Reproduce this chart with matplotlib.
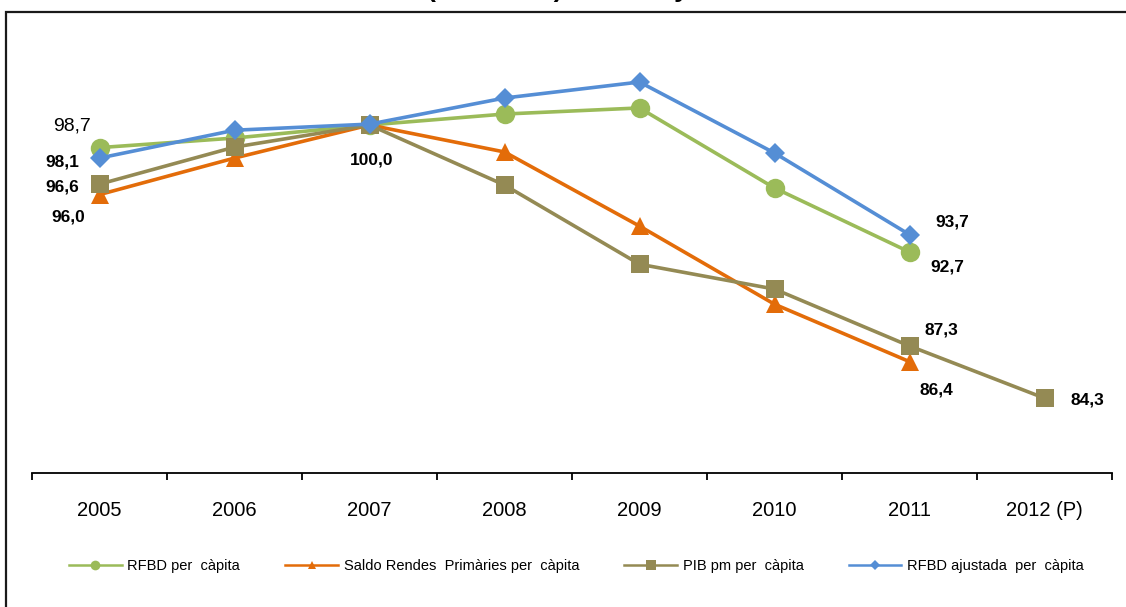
import matplotlib
matplotlib.use("Agg")
import matplotlib.pyplot as plt
from matplotlib.lines import Line2D
from matplotlib.patches import Rectangle

plt.rcParams['font.family'] = ['Liberation Sans', 'DejaVu Sans']

years = ["2005", "2006", "2007", "2008", "2009", "2010", "2011", "2012 (P)"]
rfbd = [98.7, 99.25, 100.0, 100.63, 100.98, 96.38, 92.7]
saldo = [96.0, 98.1, 100.0, 98.45, 94.19, 89.7, 86.4]
pib = [96.6, 98.73, 100.0, 96.55, 92.0, 90.57, 87.3, 84.3]
rfbd_aj = [98.1, 99.7, 100.05, 101.55, 102.47, 98.39, 93.7]

series_names = ["RFBD per  càpita", "Saldo Rendes  Primàries per  càpita",
                "PIB pm per  càpita", "RFBD ajustada  per  càpita"]
colors = ["#9BBB59", "#E36C09", "#948A54", "#558ED5"]
markers = ["o", "^", "s", "D"]
msizes = [14, 13, 13, 10.5]

# data labels: (series index, point index, text, dx px, dy px (down positive), bold, size)
labels = [
    (0, 0, "98,7", -27, -22, False, 14),
    (3, 0, "98,1", -37, 4, True, 12.5),
    (2, 0, "96,6", -37, 3, True, 12.5),
    (1, 0, "96,0", -31, 22, True, 12.5),
    (2, 2, "100,0", 2, 35, True, 12.5),
    (3, 6, "93,7", 43, -13, True, 12.5),
    (0, 6, "92,7", 38, 15, True, 12.5),
    (2, 6, "87,3", 32, -16, True, 12.5),
    (1, 6, "86,4", 27, 28, True, 12.5),
    (2, 7, "84,3", 43, 2, True, 12.5),
]

W, H = 1126, 607
fig = plt.figure(figsize=(W / 100, H / 100), dpi=100)
ax = fig.add_axes([32 / W, (H - 473) / H, 1080 / W, (473 - 55.4) / H])

all_series = [rfbd, saldo, pib, rfbd_aj]
for vals, c, m, ms in zip(all_series, colors, markers, msizes):
    x = list(range(len(vals)))
    ax.plot(x, vals, color=c, lw=2.6, marker=m, markersize=ms,
            markerfacecolor=c, markeredgecolor=c, markeredgewidth=0,
            solid_joinstyle='round', clip_on=False)

for si, pi, txt, dx, dy, bold, size in labels:
    ax.annotate(txt, (pi, all_series[si][pi]), xytext=(dx, -dy),
                textcoords='offset pixels', ha='center', va='center',
                fontsize=size, fontweight='bold' if bold else 'normal',
                color='black')

ax.set_xlim(-0.5, 7.5)
ax.set_ylim(80, 104)
ax.set_xticks(range(len(years)))
ax.set_xticklabels(years, fontsize=14.5)
ax.set_xticks([i - 0.5 for i in range(len(years) + 1)], minor=True)
ax.tick_params(axis='x', which='major', length=0, pad=20)
ax.tick_params(axis='x', which='minor', length=5, width=1.3, direction='out')
ax.set_yticks([])
for s in ['top', 'right', 'left']:
    ax.spines[s].set_visible(False)
ax.spines['bottom'].set_linewidth(1.3)
ax.spines['bottom'].set_color('black')

handles = [Line2D([0], [0], color=c, lw=1.8, marker=m, markersize=ms * 0.5,
                  markeredgewidth=0, markerfacecolor=c)
           for c, m, ms in zip(colors, markers, [14, 12, 13, 10])]
fig.legend(handles, series_names, loc='center', bbox_to_anchor=(0.512, 41 / H),
           ncol=4, frameon=False, fontsize=10.5, handlelength=3.6,
           handletextpad=0.4, columnspacing=3.1)

# chart border (cropped at right/bottom)
fig.patches.append(Rectangle((6 / W, -0.1), 1.2, (H - 12) / H + 0.1,
                             transform=fig.transFigure, fill=False,
                             edgecolor='#1a1a1a', lw=1.6))

# title, mostly cut off at the top edge (as in the reference)
fig.text(565 / W, 1 + 3 / H, "(2007=100). Catalunya", ha='center',
         va='baseline', fontsize=19, fontweight='bold')

fig.savefig("out.png", dpi=100)
